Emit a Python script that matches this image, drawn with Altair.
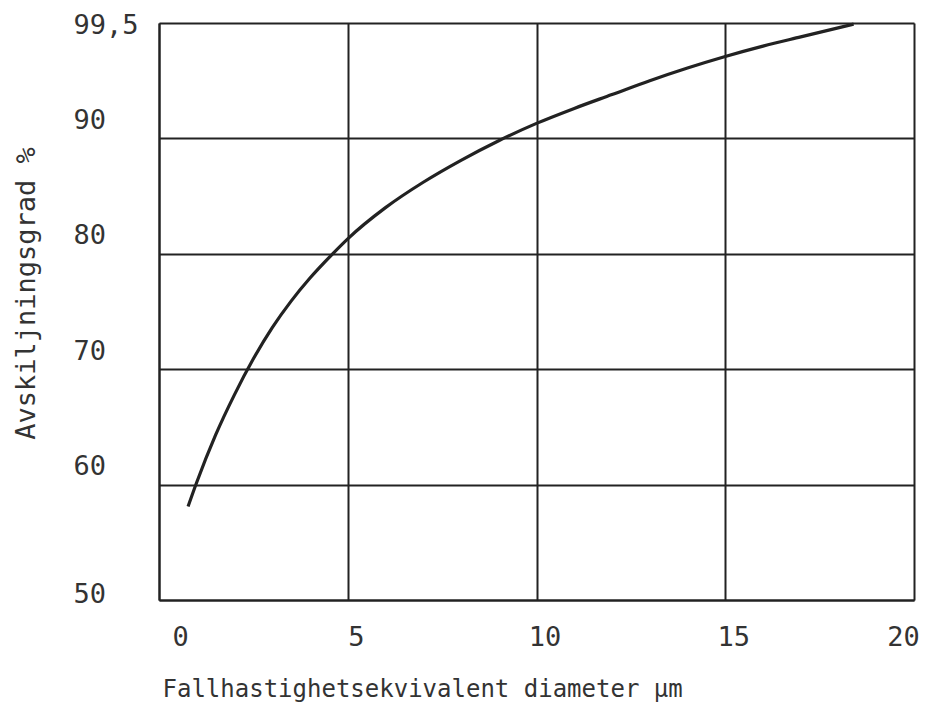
import altair as alt
import pandas as pd

# diameter (µm) and separation efficiency (position on the chart's linear scale; top line = "99,5")
diameter = [0.77, 1.0, 1.5, 2.0, 2.5, 3.0, 3.5, 4.0, 4.6, 5.0, 6.0, 7.0, 8.0, 9.0, 10.0, 11.0, 12.0, 13.0, 14.0, 15.0, 16.0, 17.0, 18.4]
efficiency = [58.1, 60.2, 64.3, 67.8, 70.9, 73.6, 75.9, 77.9, 80.0, 81.3, 84.0, 86.2, 88.1, 89.8, 91.3, 92.6, 93.8, 95.0, 96.1, 97.1, 98.0, 98.8, 99.9]

x_ticks = [0, 5, 10, 15, 20]
y_ticks = [50, 60, 70, 80, 90, 100]

df = pd.DataFrame({"d": diameter, "e": efficiency})

ink = "#222222"
txt = "#333333"
font = "DejaVu Sans Mono"

chart = alt.Chart(df).mark_line(
    color=ink, strokeWidth=3.2, interpolate="monotone"
).encode(
    x=alt.X("d:Q",
            scale=alt.Scale(domain=[0, 20], nice=False, zero=False),
            axis=alt.Axis(values=x_ticks, title="Fallhastighetsekvivalent diameter µm",
                          grid=True, gridColor=ink, gridWidth=2, gridOpacity=1,
                          domainColor=ink, domainWidth=2, ticks=False,
                          labelFont=font, labelFontSize=27, labelColor=txt,
                          labelPadding=24, labelFlush=False,
                          labelOffset=alt.ExprRef("datum.value == 0 ? 21 : (datum.value == 20 ? -11 : 8)"),
                          titleFont=font, titleFontSize=24, titleFontWeight="normal",
                          titleColor=txt, titlePadding=27,
                          titleAnchor="start", titleX=3)),
    y=alt.Y("e:Q",
            scale=alt.Scale(domain=[50, 100], nice=False, zero=False),
            axis=alt.Axis(values=y_ticks, title="Avskiljningsgrad %",
                          labelExpr="datum.value == 100 ? '99,5' : datum.label",
                          grid=True, gridColor=ink, gridWidth=2, gridOpacity=1,
                          domainColor=ink, domainWidth=2, ticks=False,
                          labelFont=font, labelFontSize=27, labelColor=txt,
                          labelAlign="left", labelPadding=86, labelFlush=False,
                          labelOffset=alt.ExprRef("datum.value == 50 ? -6 : (datum.value == 100 ? 2 : -18)"),
                          titleFont=font, titleFontSize=27, titleFontWeight="normal",
                          titleColor=txt, titleAngle=-90,
                          titleX=-133, titleY=270, titleAlign="center",
                          titleBaseline="middle")),
).properties(
    width=755, height=577,
    autosize=alt.AutoSizeParams(type="none"),
    padding={"left": 151, "top": 15, "right": 5, "bottom": 106},
).configure_view(stroke=ink, strokeWidth=2).configure(background="white")

chart.save("out.html", embed_options={"renderer": "svg", "actions": False})
